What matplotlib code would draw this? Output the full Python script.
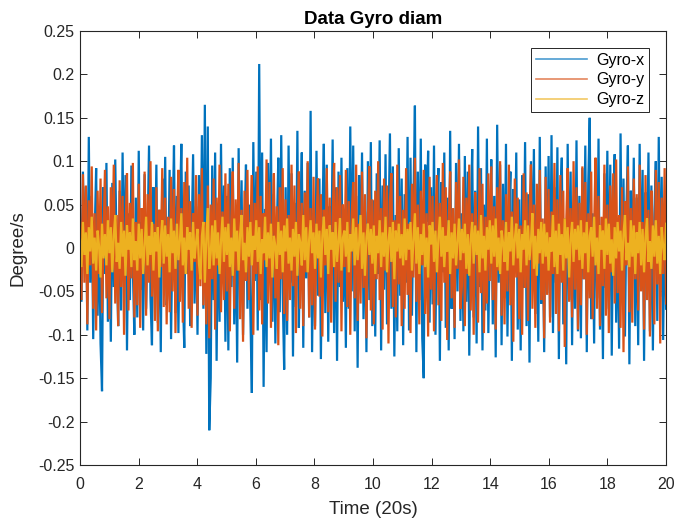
import numpy as np
import matplotlib
matplotlib.use("Agg")
import matplotlib.pyplot as plt
from matplotlib.ticker import FuncFormatter, MultipleLocator

plt.rcParams["font.family"] = ["Liberation Sans", "DejaVu Sans"]
plt.rcParams["axes.unicode_minus"] = False

# gyro samples, in thousandths of degree/s, 20 per second
gyro_x = [
    45, -62, 88, -20, 71, -95, 128, -40, 60, -105, 15, 92, -78, 34, -110, -165, 70, -30, 98, -85,
    20, -108, 75, -45, 102, -12, -90, 66, -72, 110, -35, 84, -118, 40, -60, 95, -25, -100, 58, -80,
    112, -48, 30, -95, 85, -70, 12, 118, -58, -112, 70, -22, 96, -86, 44, -120, 80, -15, 105, -66,
    -40, 90, -105, 25, 118, -75, 60, -98, 38, 120, -52, -115, 88, -30, 72, -90, 10, 108, -64, 48,
    -100, 84, -28, 130, -70, 165, -122, 140, -210, -150, 95, -60, 110, -130, 45, -85, 120, -40, 72, -108,
    60, -118, 92, -45, 104, -88, 30, -132, 115, -60, 78, -100, 20, 96, -70, 50, -75, -167, 122, -38,
    88, -95, 212, -60, 110, -160, 45, -120, 98, -30, 126, -85, 62, -110, 14, 104, -74, 130, -52, -140,
    70, -100, 118, -40, 86, -125, 52, -68, 135, -92, 24, 110, -115, 66, -35, 98, -80, 158, -120, 40,
    -90, 112, -55, 80, -128, 34, 120, -75, 96, -108, 48, -20, 125, -98, 70, -130, 88, -45, 104, -62,
    30, -115, 92, -70, 140, -50, 118, -96, 60, -138, 84, -25, 110, -82, 42, -120, 100, -60, 122, -90,
    55, -102, 86, -30, 124, -118, 72, -48, 108, -88, 16, 132, -70, 94, -125, 38, -96, 115, -55, 80,
    -112, 62, -40, 128, -95, 104, -78, 50, 164, -120, 88, -60, 126, -104, -150, 96, 30, 112, -86, 70,
    -65, 118, -100, 45, 92, -130, 76, -28, 110, -92, 58, -118, 135, -70, 24, -105, 98, -50, 120, -84,
    40, -96, 106, -62, 88, -124, 30, 114, -80, 66, -110, 140, -45, 92, -118, 50, -72, 126, -98, 18,
    102, -88, 60, -126, 142, -40, 96, -112, 74, -58, 120, -102, 36, 88, -130, 68, -20, 110, -94, 56,
    -118, 84, -46, 122, -90, 62, -132, 100, -30, 114, -76, 50, -108, 128, -64, 20, -120, 94, -52, 106,
    -80, 130, -98, 70, -40, 116, -128, 56, 104, -88, 34, -134, 120, -60, 88, -112, 46, -70, 124, -96,
    60, -104, 92, -36, 118, -120, 74, 150, -82, 40, -110, 98, -58, 126, -94, 24, -128, 86, -46, 112,
    -70, 96, -124, 52, 108, -86, 30, -116, 132, -60, 80, -102, 44, 118, -134, 66, -28, 104, -90, 58,
    -112, 120, -48, 90, -130, 64, -20, 110, -96, 72, -118, 36, 100, -84, 128, -56, 82, -106, 48, -70,
]
gyro_y = [
    30, -60, 85, -40, 72, -88, 55, -20, 94, -70, 40, -95, 66, -30, 80, -75, 12, 90, -58, 48,
    -82, 70, -25, 96, -64, 38, -90, 78, -45, 60, -100, 20, 86, -72, 52, -35, 98, -80, 30, -66,
    74, -92, 46, -18, 88, -78, 62, -40, 100, -56, 28, -84, 70, -96, 44, -22, 92, -68, 58, -88,
    36, -74, 82, -50, 68, -98, 24, 90, -62, 46, -86, 76, -30, 104, -70, 54, -92, 40, -16, 84,
    -78, 62, -44, 92, -66, 30, -88, 72, -104, 50, -36, 80, -94, 58, -20, 96, -74, 42, -60, 86,
    -50, 74, -96, 34, 88, -70, 56, -26, 98, -82, 44, -108, 66, -38, 90, -60, 20, 84, -100, 52,
    -30, 94, -72, 60, -88, 40, -14, 102, -64, 76, -92, 28, 86, -58, 48, -112, 70, -36, 92, -76,
    56, -84, 38, -60, 96, -44, 72, -98, 24, 88, -70, 52, -90, 64, -28, 100, -80, 46, -66, 82,
    -94, 30, 80, -56, 62, -102, 44, -20, 92, -74, 58, -86, 36, 98, -62, 70, -40, 84, -96, 50,
    -22, 90, -68, 54, -100, 40, 76, -58, 96, -84, 28, -64, 88, -46, 62, -104, 34, 94, -72, 56,
    -88, 66, -36, 100, -60, 46, -94, 80, -26, 72, -110, 54, 86, -68, 32, -80, 96, -42, 60, -90,
    44, -70, 92, -54, 28, -98, 74, -34, 104, -62, 50, -88, 66, -20, 90, -76, 40, -102, 82, -48,
    60, -96, 36, 84, -66, 52, -84, 98, -40, 70, -106, 30, 88, -58, 46, -92, 76, -24, 102, -70,
    -44, 82, -90, 58, -30, 96, -72, 40, -100, 64, 20, -86, 92, -52, 74, -98, 36, -64, 86, -38,
    94, -60, 48, -94, 70, -26, 100, -78, 32, -88, 62, -50, 96, -66, 42, -108, 80, -34, 58, -82,
    26, -100, 86, -46, 64, -84, 38, 96, -70, 50, -92, 74, -18, 90, -60, 34, -104, 82, -54, 68,
    -86, 42, -30, 98, -76, 56, -96, 84, -40, 66, -114, 28, 92, -62, 46, -80, 100, -48, 70, -94,
    52, -66, 94, -36, 76, -100, 40, -58, 88, -82, 24, 104, -70, 60, -90, 36, -44, 96, -78, 50,
    -98, 72, -28, 86, -64, 102, -52, 38, -92, 70, -120, 54, -20, 94, -74, 46, -86, 80, -36, 62,
    -72, 96, -50, 30, -94, 84, -60, 44, -102, 66, 20, -88, 90, -42, 76, -110, 58, -30, 92, -64,
]
gyro_z = [
    10, -22, 30, -8, 18, -30, 24, -4, 36, -18, 12, -26, 20, 2, -34, 28, -12, 16, -20, 32,
    -6, 24, -28, 14, 38, -16, 6, -24, 30, -10, 20, -32, 26, -2, 18, -22, 34, -14, 8, -26,
    28, -12, 22, -30, 4, 36, -20, 14, -8, 30, -26, 18, -4, 24, -34, 10, 32, -18, 26, -10,
    16, -28, 34, -6, 20, -24, 28, -14, 8, 40, -20, 12, -30, 24, -2, 18, -26, 30, -12, 6,
    22, -18, -36, 14, 30, -40, 10, 46, -24, -6, 26, -20, 32, -12, 18, -30, 8, 36, -16, 24,
    -8, 28, -22, 12, -32, 34, -4, 20, -26, 16, 38, -14, 6, -28, 24, -10, 30, -20, 14, -2,
    32, -16, 24, -30, 10, -6, 36, -22, 18, -12, 28, -34, 14, 2, -24, 30, -8, 20, -28, 26,
    -4, 34, -18, 12, -26, 22, -10, 30, -32, 16, 6, -20, 38, -14, 24, -28, 10, 32, -6, 18,
    -24, 28, -12, 20, -34, 14, 36, -8, 22, -30, 26, -2, 18, -22, 30, -16, 8, 34, -26, 12,
    20, -10, 30, -28, 16, -4, 34, -20, 24, -14, 6, 38, -24, 18, -32, 12, 28, -8, 22, -18,
    26, -30, 14, -6, 32, -22, 18, -10, 36, -28, 8, 24, -16, 30, -36, 20, -4, 28, -12, 16,
    -20, 34, -14, 22, -2, 30, -26, 10, 40, -18, 24, -30, 16, -8, 28, -22, 12, -34, 26, 4,
    30, -16, 20, -28, 12, 36, -10, 24, -22, 14, -4, 32, -30, 18, -12, 28, -20, 8, 34, -14,
    22, -6, 28, -24, 16, -32, 10, 30, -18, 26, -8, 20, -28, 38, -12, 14, -26, 24, -2, 32,
    -18, 26, -10, 34, -22, 12, -30, 20, 6, -16, 30, -26, 18, -4, 36, -20, 10, 28, -12, 22,
    -28, 16, -2, 32, -20, 26, -14, 8, 40, -24, 14, -32, 22, -6, 30, -18, 28, -10, 18, -26,
    12, -4, 38, -22, 20, -30, 28, -8, 16, -26, 34, -12, 24, -34, 10, 30, -16, 22, -2, 26,
    -14, 32, -24, 18, -6, 30, -28, 14, 24, -10, 36, -20, 12, -30, 26, -2, 20, -24, 34, -8,
    28, -18, 10, -32, 24, -12, 30, -4, 20, -26, 16, 38, -14, 6, -22, 32, -10, 26, -30, 18,
    -6, 30, -20, 22, -28, 12, 34, -16, 8, -24, 26, -10, 32, -18, 14, -30, 24, 2, -14, 28,
]
labels = ["Gyro-x", "Gyro-y", "Gyro-z"]
colors = ["#0072BD", "#D95319", "#EDB120"]

series = [np.array(s) / 1000.0 for s in (gyro_x, gyro_y, gyro_z)]
t = np.linspace(0, 20, len(gyro_x))

fig = plt.figure(figsize=(6.79, 5.21), dpi=100)
ax = fig.add_axes([0.1178, 0.1075, 0.8632, 0.833])

for s, lab, c in zip(series, labels, colors):
    ax.plot(t, s, color=c, lw=1.6, label=lab, solid_joinstyle="miter")

ax.set_xlim(0, 20)
ax.set_ylim(-0.25, 0.25)
ax.xaxis.set_major_locator(MultipleLocator(2))
ax.yaxis.set_major_locator(MultipleLocator(0.05))
ax.yaxis.set_major_formatter(FuncFormatter(lambda v, p: f"{round(v, 2):g}"))

for sp in ax.spines.values():
    sp.set_color("#262626")
    sp.set_linewidth(0.8)
ax.tick_params(direction="in", length=5, width=0.7, colors="#262626",
               labelsize=11.5, top=True, right=True)
ax.tick_params(axis="x", pad=9)
ax.tick_params(axis="y", pad=4)

ax.set_xlabel("Time (20s)", fontsize=13.5, color="#262626", labelpad=6)
ax.set_ylabel("Degree/s", fontsize=13.5, color="#262626", labelpad=8)
ax.set_title("Data Gyro diam", fontsize=13.5, fontweight="bold", pad=5)

leg = ax.legend(loc="upper right", fontsize=11.5, handlelength=3.2,
                fancybox=False, framealpha=1, edgecolor="#262626",
                borderaxespad=1.05, labelspacing=0.3, borderpad=0.3,
                handletextpad=0.6)
leg.get_frame().set_linewidth(0.7)
for h in leg.get_lines():
    h.set_linewidth(1.2)
    h.set_alpha(0.7)

fig.savefig("out.png", dpi=100)
